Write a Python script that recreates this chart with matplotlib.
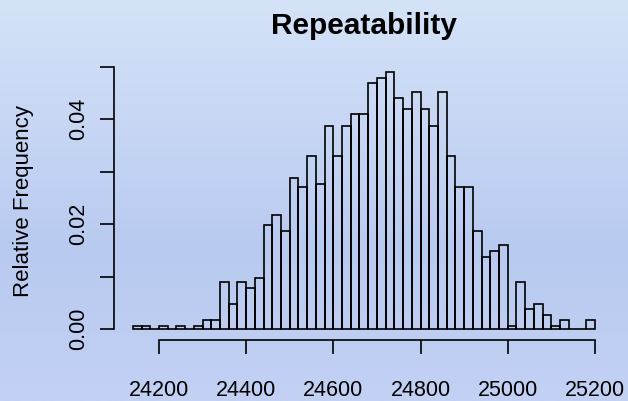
import numpy as np
import matplotlib
matplotlib.use("Agg")
import matplotlib.pyplot as plt
from matplotlib.colors import LinearSegmentedColormap

# Data: bin edges 24140..25200 (width 20), relative frequencies
bin_start = 24140
bin_width = 20
rel_freq = [
    0.0006, 0.0006, 0.0000, 0.0006, 0.0000, 0.0006, 0.0000, 0.0006, 0.0017, 0.0017,
    0.0089, 0.0048, 0.0089, 0.0079, 0.0097, 0.0198, 0.0218, 0.0187, 0.0288, 0.0270,
    0.0330, 0.0277, 0.0388, 0.0330, 0.0388, 0.0410, 0.0410, 0.0469, 0.0478, 0.0489,
    0.0440, 0.0420, 0.0451, 0.0420, 0.0388, 0.0451, 0.0330, 0.0270, 0.0270, 0.0187,
    0.0138, 0.0149, 0.0160, 0.0006, 0.0089, 0.0038, 0.0048, 0.0027, 0.0006, 0.0017,
    0.0000, 0.0000, 0.0017,
]
x_ticks = [24200, 24400, 24600, 24800, 25000, 25200]
y_ticks = [0.00, 0.01, 0.02, 0.03, 0.04, 0.05]
y_tick_labels = ["0.00", "", "0.02", "", "0.04", ""]
title = "Repeatability"
ylabel = "Relative Frequency"

plt.rcParams['font.family'] = ['Liberation Sans', 'DejaVu Sans']

fig = plt.figure(figsize=(6.28, 4.01), dpi=100)

# gradient background
bg = fig.add_axes([0, 0, 1, 1], zorder=-10)
cmap = LinearSegmentedColormap.from_list(
    "bg", [(0.0, "#d4e3f8"), (0.62, "#b9caf0"), (1.0, "#c2d1f4")])
grad = np.linspace(0, 1, 256).reshape(-1, 1)
bg.imshow(grad, aspect='auto', cmap=cmap, extent=[0, 1, 0, 1], origin='upper')
bg.set_axis_off()

W, H = 628, 401
left, right = 114.3, 613.4
top, bottom = 62.2, 339.5
ax = fig.add_axes([left / W, 1 - bottom / H, (right - left) / W, (bottom - top) / H])
ax.patch.set_alpha(0)

edges = np.arange(len(rel_freq) + 1) * bin_width + bin_start
ax.bar(edges[:-1], rel_freq, width=bin_width, align='edge',
       facecolor='none', edgecolor='black', linewidth=1.2)

xr = edges[-1] - edges[0]
ax.set_xlim(edges[0] - 0.04 * xr, edges[-1] + 0.04 * xr)
ym = max(rel_freq)
ax.set_ylim(-0.04 * ym, 1.04 * ym)

for s in ['top', 'right']:
    ax.spines[s].set_visible(False)
ax.spines['left'].set_bounds(y_ticks[0], y_ticks[-1])
ax.spines['bottom'].set_bounds(x_ticks[0], x_ticks[-1])
ax.spines['left'].set_linewidth(1.2)
ax.spines['bottom'].set_linewidth(1.2)

ax.set_xticks(x_ticks)
ax.set_xticklabels([str(v) for v in x_ticks], fontsize=15.5)
ax.set_yticks(y_ticks)
ax.set_yticklabels(y_tick_labels, fontsize=15.5, rotation=90, va='center')
ax.tick_params(axis='both', length=10, width=1.2, direction='out')
ax.tick_params(axis='x', pad=19)
ax.tick_params(axis='y', pad=8)

ax.set_ylabel(ylabel, fontsize=16, labelpad=25)
fig.text((left + right) / 2 / W, 1 - 26 / H, title, fontsize=21.5,
         fontweight='bold', ha='center', va='center')

fig.savefig("out.png", dpi=100)
